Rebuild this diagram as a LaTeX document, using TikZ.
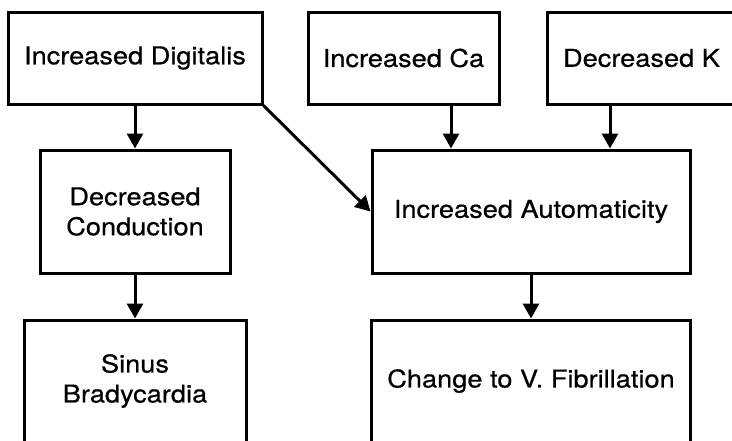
\documentclass[tikz,border=0pt]{standalone}
\usepackage{fontspec}
\setmainfont[FakeStretch=1.11,FakeBold=0.6]{TeX Gyre Heros}
\usetikzlibrary{arrows.meta,positioning}
\begin{document}
\begin{tikzpicture}[
  x=1pt,y=1pt,
  node distance=43pt,
  box/.style={draw,line width=3pt,inner sep=0pt,align=center,minimum height=92pt,font=\fontsize{24.5}{30}\selectfont},
  arr/.style={-{Triangle[length=15pt,width=16pt]},line width=3pt}]
\useasboundingbox (0,0) rectangle (732,-440);
\clip (0,0) rectangle (732,-440);
\node[box,minimum width=254pt] (dig) at (135,-58) {Increased Digitalis};
\node[box,right=of dig,minimum width=191pt] (ca) {Increased Ca};
\node[box,right=45pt of ca,minimum width=189pt] (k) {Decreased K};
\node[box,below=of dig,minimum width=190pt,minimum height=123pt] (cond) {Decreased\\Conduction};
\node[box,right=139pt of cond,minimum width=318pt,minimum height=123pt] (aut) {Increased Automaticity};
\node[box,below=44pt of cond,minimum width=222pt,minimum height=122pt] (sinus) {Sinus\\Bradycardia};
\node[box,below=44pt of aut,minimum width=319pt,minimum height=122pt] (fib) {Change to V. Fibrillation};
\coordinate (caIn) at ([xshift=-80pt]aut.north);
\coordinate (kIn) at ([xshift=79pt]aut.north);
\draw[arr](dig)--(cond);\draw[arr](cond)--(sinus);\draw[arr](aut)--(fib);
\draw[arr](dig.south east)--(aut.west);
\draw[arr](ca.south -| caIn)--(caIn);\draw[arr](k.south -| kIn)--(kIn);
\end{tikzpicture}
\end{document}
